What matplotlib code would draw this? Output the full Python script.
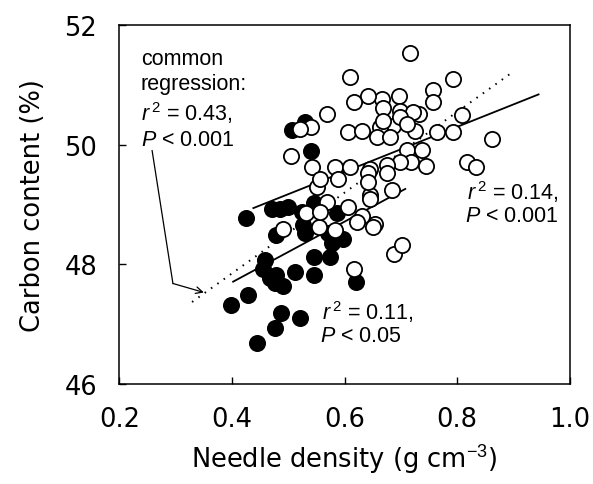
import matplotlib
matplotlib.use('Agg')
import matplotlib.pyplot as plt
import numpy as np

# filled circles
black_x = [0.530, 0.506, 0.540, 0.425, 0.471, 0.485, 0.500, 0.524, 0.527, 0.545,
           0.586, 0.598, 0.577, 0.479, 0.530, 0.545, 0.574, 0.459, 0.456, 0.468,
           0.479, 0.491, 0.476, 0.512, 0.545, 0.620, 0.429, 0.399, 0.488, 0.476,
           0.521, 0.444, 0.571]
black_y = [50.38, 50.24, 49.90, 48.77, 48.93, 48.93, 48.96, 48.88, 48.66, 49.02,
           48.85, 48.43, 48.35, 48.49, 48.52, 48.13, 48.13, 48.07, 47.93, 47.77,
           47.82, 47.63, 47.68, 47.88, 47.82, 47.71, 47.49, 47.32, 47.18, 46.94,
           47.10, 46.68, 48.52]

# open circles
open_x = [0.716, 0.793, 0.758, 0.757, 0.696, 0.666, 0.642, 0.616, 0.610, 0.669,
          0.699, 0.733, 0.721, 0.808, 0.686, 0.663, 0.657, 0.681, 0.725, 0.764,
          0.793, 0.862, 0.711, 0.737, 0.719, 0.745, 0.699, 0.817, 0.834, 0.675,
          0.675, 0.684, 0.645, 0.645, 0.654, 0.568, 0.540, 0.520, 0.504, 0.542,
          0.551, 0.556, 0.583, 0.610, 0.589, 0.642, 0.642, 0.645, 0.568, 0.532,
          0.607, 0.631, 0.555, 0.583, 0.622, 0.651, 0.491, 0.617, 0.669, 0.699,
          0.711, 0.607, 0.631, 0.556, 0.688, 0.703]
open_y = [51.53, 51.09, 50.92, 50.72, 50.81, 50.76, 50.81, 50.72, 51.13, 50.61,
          50.56, 50.52, 50.55, 50.50, 50.32, 50.29, 50.13, 50.13, 50.22, 50.21,
          50.21, 50.10, 49.91, 49.91, 49.71, 49.65, 49.71, 49.71, 49.63, 49.66,
          49.52, 49.24, 49.60, 49.16, 48.68, 50.52, 50.29, 50.26, 49.81, 49.63,
          49.30, 49.43, 49.63, 49.63, 49.43, 49.52, 49.38, 49.10, 49.05, 48.85,
          48.96, 48.80, 48.63, 48.57, 48.71, 48.63, 48.59, 47.92, 50.40, 50.46,
          50.35, 50.21, 50.23, 48.88, 48.18, 48.33]

# regression line end points
black_line_x = [0.402, 0.708]
black_line_y = [47.71, 49.26]
open_line_x = [0.438, 0.945]
open_line_y = [48.94, 50.84]
common_line_x = [0.329, 0.894]
common_line_y = [47.37, 51.18]

plt.rcParams['font.family'] = 'DejaVu Sans'
plt.rcParams['mathtext.fontset'] = 'custom'
plt.rcParams['mathtext.rm'] = 'Liberation Sans'
plt.rcParams['mathtext.it'] = 'Liberation Sans:italic'

fig = plt.figure(figsize=(5.93, 4.85), dpi=100)
ax = fig.add_axes([0.2015, 0.2062, 0.7589, 0.7402])

ax.plot(common_line_x, common_line_y, color='black', lw=1.4, linestyle=(0, (0.8, 3.2)), zorder=1)
ax.plot(black_line_x, black_line_y, color='black', lw=1.3, zorder=1)
ax.plot(open_line_x, open_line_y, color='black', lw=1.3, zorder=1)

ax.scatter(black_x, black_y, s=120, facecolor='black', edgecolor='black', linewidth=1.3, zorder=2)
ax.scatter(open_x, open_y, s=120, facecolor='white', edgecolor='black', linewidth=1.3, zorder=3)

# arrow from the common regression text
ax.plot([0.258, 0.295], [49.90, 47.68], color='black', lw=0.9)
ax.annotate('', xy=(0.350, 47.53), xytext=(0.295, 47.68),
            arrowprops=dict(arrowstyle='->', lw=0.9, color='black', shrinkA=0, shrinkB=0, mutation_scale=12))

tf = dict(family='Liberation Sans', fontsize=15.5, va='baseline', ha='left')
ax.text(0.238, 51.35, 'common', **tf)
ax.text(0.238, 50.93, 'regression:', **tf)
ax.text(0.238, 50.42, r'$\mathit{r}^{\,2}$ = 0.43,', **tf)
ax.text(0.238, 50.00, r'$\mathit{P}$ < 0.001', **tf)

ax.text(0.818, 49.10, r'$\mathit{r}^{\,2}$ = 0.14,', **tf)
ax.text(0.814, 48.72, r'$\mathit{P}$ < 0.001', **tf)

ax.text(0.560, 47.08, r'$\mathit{r}^{\,2}$ = 0.11,', **tf)
ax.text(0.556, 46.72, r'$\mathit{P}$ < 0.05', **tf)

ax.set_xlim(0.2, 1.0)
ax.set_ylim(46, 52)
ax.set_xticks([0.2, 0.4, 0.6, 0.8, 1.0])
ax.set_xticklabels(['0.2', '0.4', '0.6', '0.8', '1.0'])
ax.set_yticks([46, 48, 50, 52])

ax.tick_params(direction='in', length=5, width=1, labelsize=18.5, pad=16)
for sp in ax.spines.values():
    sp.set_linewidth(1.1)

ax.set_xlabel('Needle density (g cm$^{-3}$)', fontsize=18.5)
ax.set_ylabel('Carbon content (%)', fontsize=18.5)
ax.xaxis.set_label_coords(0.5, -0.165)
ax.yaxis.set_label_coords(-0.163, 0.5)

plt.savefig('out.png')
plt.close()
